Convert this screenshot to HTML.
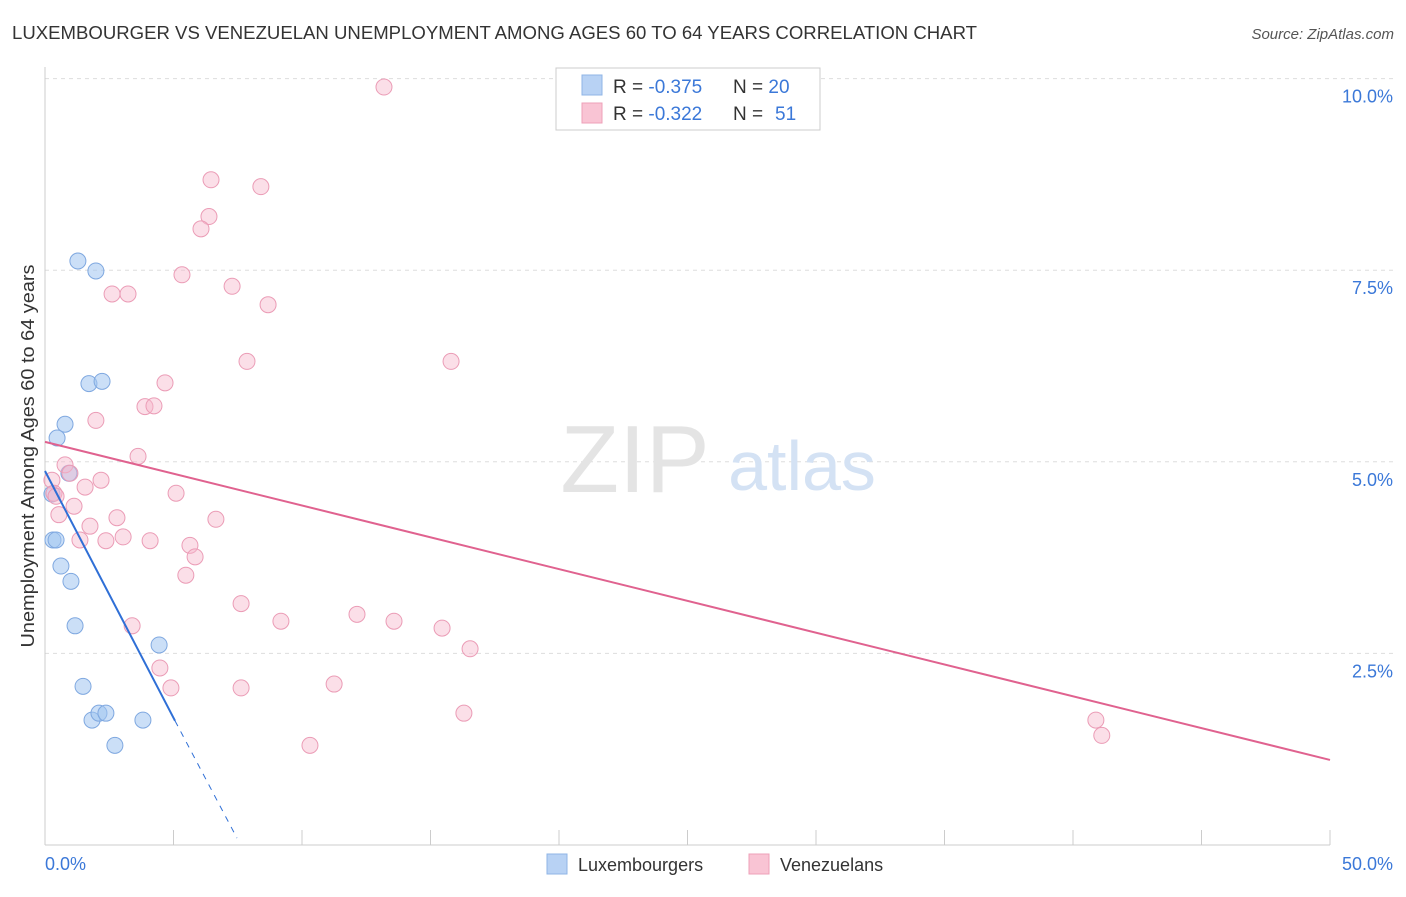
<!DOCTYPE html>
<html><head><meta charset="utf-8"><style>
body{margin:0;background:#fff;font-family:"Liberation Sans",sans-serif;}
svg text{font-family:"Liberation Sans",sans-serif;}
</style></head><body>
<svg width="1406" height="892">
<text x="12" y="39" font-size="18" fill="#333" textLength="965" lengthAdjust="spacingAndGlyphs">LUXEMBOURGER VS VENEZUELAN UNEMPLOYMENT AMONG AGES 60 TO 64 YEARS CORRELATION CHART</text>
<text x="1394" y="39" font-size="15" fill="#555" text-anchor="end" font-style="italic">Source: ZipAtlas.com</text>
<g id="grid"></g>
<text x="635" y="492" font-size="96" fill="#e4e4e4" text-anchor="middle" font-family="Liberation Serif">ZIP</text>
<text x="802" y="490" font-size="70" fill="#d4e2f4" text-anchor="middle">atlas</text>
<line x1="45" y1="67" x2="45" y2="845" stroke="#ccc"/>
<line x1="45" y1="845" x2="1330" y2="845" stroke="#ccc"/>
<text transform="translate(34,456) rotate(-90)" font-size="18" fill="#333" text-anchor="middle" textLength="383" lengthAdjust="spacingAndGlyphs">Unemployment Among Ages 60 to 64 years</text>
<text x="45" y="870" font-size="18" fill="#3b78d8">0.0%</text>
<text x="1393" y="870" font-size="18" fill="#3b78d8" text-anchor="end">50.0%</text>
<g id="marks"></g>
<g>
<rect x="556" y="68" width="264" height="62" fill="#fff" stroke="#ccc"/>
<rect x="582" y="75" width="20" height="20" fill="#b8d2f4" stroke="#8fb4e6"/>
<rect x="582" y="103" width="20" height="20" fill="#f9c4d4" stroke="#eea0b8"/>
<text x="613" y="93" font-size="19" fill="#333">R = <tspan fill="#3b78d8">-0.375</tspan></text>
<text x="733" y="93" font-size="19" fill="#333">N = <tspan fill="#3b78d8">20</tspan></text>
<text x="613" y="120" font-size="19" fill="#333">R = <tspan fill="#3b78d8">-0.322</tspan></text>
<text x="733" y="120" font-size="19" fill="#333">N = </text>
<text x="775" y="120" font-size="19" fill="#3b78d8">51</text>
</g>
<g>
<rect x="547" y="854" width="20" height="20" fill="#b8d2f4" stroke="#8fb4e6"/>
<text x="578" y="871" font-size="18" fill="#333">Luxembourgers</text>
<rect x="749" y="854" width="20" height="20" fill="#f9c4d4" stroke="#eea0b8"/>
<text x="780" y="871" font-size="18" fill="#333">Venezuelans</text>
</g>
</svg>
<script>
const yTicks=[2.5,5,7.5,10];
const yTickLabels=["2.5%","5.0%","7.5%","10.0%"];
const blueX=[1.28,1.98,1.71,2.22,0.78,0.47,0.93,0.27,0.31,0.43,0.62,1.01,1.17,4.44,1.48,1.83,2.10,2.37,3.81,2.72];
const blueY=[7.62,7.49,6.02,6.05,5.49,5.31,4.85,4.58,3.98,3.98,3.64,3.44,2.86,2.61,2.07,1.63,1.72,1.72,1.63,1.30];
const pinkX=[13.19,6.46,8.40,6.38,6.07,5.33,7.28,2.61,3.23,8.68,7.86,15.80,4.67,3.89,4.24,1.98,3.62,0.78,0.97,0.27,0.35,2.18,1.56,5.10,0.43,1.13,0.54,6.65,2.80,1.75,1.36,2.37,3.04,4.09,5.64,5.84,5.48,7.63,12.14,9.18,13.58,15.45,3.39,16.54,4.47,4.90,7.63,11.25,16.30,10.31,40.89,41.12];
const pinkY=[9.89,8.68,8.59,8.20,8.04,7.44,7.29,7.19,7.19,7.05,6.31,6.31,6.03,5.72,5.73,5.54,5.07,4.96,4.85,4.76,4.59,4.76,4.67,4.59,4.55,4.42,4.31,4.25,4.27,4.16,3.98,3.97,4.02,3.97,3.91,3.76,3.52,3.15,3.01,2.92,2.92,2.83,2.86,2.56,2.31,2.05,2.05,2.10,1.72,1.30,1.63,1.43];
const blueLine=[0,4.88,5.06,1.62,7.47,0.09];
const pinkLine=[0,5.26,50,1.11];
const sx=v=>45+v/50*1285, sy=v=>845-v*76.64;
const NS="http://www.w3.org/2000/svg";
const grid=document.getElementById('grid'), marks=document.getElementById('marks');
function mk(tag,attrs,parent){const e=document.createElementNS(NS,tag);for(const k in attrs)e.setAttribute(k,attrs[k]);parent.appendChild(e);return e;}
yTicks.forEach((t,i)=>{
 const l=mk('line',{x1:45,x2:1393,y1:sy(t),y2:sy(t),stroke:'#ddd','stroke-dasharray':'4,4'},grid);
 
 
 const tx=mk('text',{x:1393,y:sy(t)+24,'font-size':18,fill:'#3b78d8','text-anchor':'end'},grid);
 tx.textContent=yTickLabels[i];
 
 
});
for(let i=1;i<=10;i++){
 const x=sx(i*5);
 const t=mk('line',{x1:x,x2:x,y1:830,y2:845,stroke:'#ccc'},grid);
 
 
}
blueX.forEach((x,i)=>{
 const c=mk('circle',{cx:sx(x),cy:sy(blueY[i]),r:8,fill:'rgba(160,196,240,0.55)',stroke:'#7fa8e0','stroke-width':1},marks);
 
 
});
pinkX.forEach((x,i)=>{
 const c=mk('circle',{cx:sx(x),cy:sy(pinkY[i]),r:8,fill:'rgba(246,184,204,0.45)',stroke:'#eb9cb6','stroke-width':1},marks);
 
 
});
const bl=mk('line',{x1:sx(blueLine[0]),y1:sy(blueLine[1]),x2:sx(blueLine[2]),y2:sy(blueLine[3]),stroke:'#2f6fd6','stroke-width':2},marks);


const bd=mk('line',{x1:sx(blueLine[2]),y1:sy(blueLine[3]),x2:sx(blueLine[4]),y2:sy(blueLine[5]),stroke:'#2f6fd6','stroke-width':1,'stroke-dasharray':'6,6'},marks);


const pl=mk('line',{x1:sx(pinkLine[0]),y1:sy(pinkLine[1]),x2:sx(pinkLine[2]),y2:sy(pinkLine[3]),stroke:'#e0628f','stroke-width':2},marks);


</script>
</body></html>
